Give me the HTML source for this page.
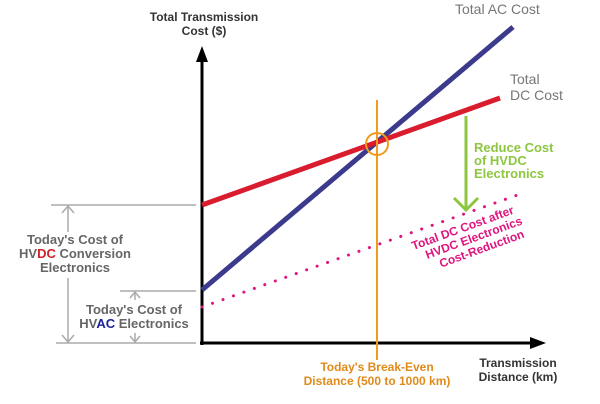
<!DOCTYPE html><html><head><style>body{margin:0;background:#fff}svg{display:block}</style></head><body>
<svg width="600" height="404" xmlns="http://www.w3.org/2000/svg" font-family="Liberation Sans, sans-serif">
<g stroke="#aaa" stroke-width="1.5" fill="none">
<line x1="51" y1="205" x2="196" y2="205"/><line x1="120" y1="291" x2="196" y2="291"/><line x1="56" y1="343" x2="196" y2="343"/>
<line x1="68" y1="206" x2="68" y2="232"/><line x1="68" y1="278" x2="68" y2="342"/>
<polyline points="62,213 68,206 74,213"/><polyline points="62,335 68,342 74,335"/>
<line x1="135" y1="292" x2="135" y2="300"/><line x1="135" y1="333" x2="135" y2="342"/>
<polyline points="130,298 135,292 140,298"/><polyline points="130,336 135,342 140,336"/>
</g>
<g font-weight="bold" font-size="13" fill="#666" text-anchor="middle">
<text x="75" y="244">Today's Cost of</text>
<text x="75" y="258">HV<tspan fill="#d0202a">DC</tspan> Conversion</text>
<text x="75" y="272">Electronics</text>
<text x="134" y="314">Today's Cost of</text>
<text x="134" y="328">HV<tspan fill="#1a22a0">AC</tspan> Electronics</text>
<text x="204" y="21" fill="#333" font-size="12">Total Transmission</text>
<text x="204" y="35" fill="#333" font-size="12">Cost ($)</text>
<text x="377" y="371" fill="#e08a1a" font-size="12">Today's Break-Even</text>
<text x="377" y="385" fill="#e08a1a" font-size="12">Distance (500 to 1000 km)</text>
<text x="518" y="367" fill="#333" font-size="12">Transmission</text>
<text x="518" y="381" fill="#333" font-size="12">Distance (km)</text>
</g>
<line x1="202" y1="345" x2="202" y2="58" stroke="#000" stroke-width="3"/>
<polygon points="202,46 196,62 208,62" fill="#000"/>
<line x1="200" y1="343" x2="532" y2="343" stroke="#000" stroke-width="3"/>
<polygon points="546,343 530,337 530,349" fill="#000"/>
<line x1="202" y1="307" x2="526" y2="192" stroke="#e0147e" stroke-width="3" stroke-dasharray="0.1 11" stroke-linecap="round"/>
<line x1="202" y1="290" x2="513" y2="27" stroke="#3b3a8c" stroke-width="5"/>
<line x1="202" y1="205" x2="500" y2="98" stroke="#d91c2e" stroke-width="5"/>
<line x1="377" y1="100" x2="377" y2="360" stroke="#f29a1e" stroke-width="2"/>
<circle cx="377" cy="144" r="11" fill="none" stroke="#f29a1e" stroke-width="2"/>
<line x1="466" y1="116" x2="466" y2="208" stroke="#8dc63f" stroke-width="3"/>
<polyline points="454,198 466,210 478,198" fill="none" stroke="#8dc63f" stroke-width="3"/>
<g font-weight="bold" font-size="13" fill="#8dc63f"><text x="474" y="152">Reduce Cost</text><text x="474" y="165">of HVDC</text><text x="474" y="178">Electronics</text></g>
<g font-weight="bold" font-size="12" fill="#e0147e" transform="rotate(-20 415 240)"><text x="410" y="249">Total DC Cost after</text><text x="420" y="262">HVDC Electronics</text><text x="430" y="275">Cost-Reduction</text></g>
<g fill="#777" font-size="14"><text x="455" y="14">Total AC Cost</text><text x="510" y="84">Total</text><text x="510" y="100">DC Cost</text></g>
</svg></body></html>
